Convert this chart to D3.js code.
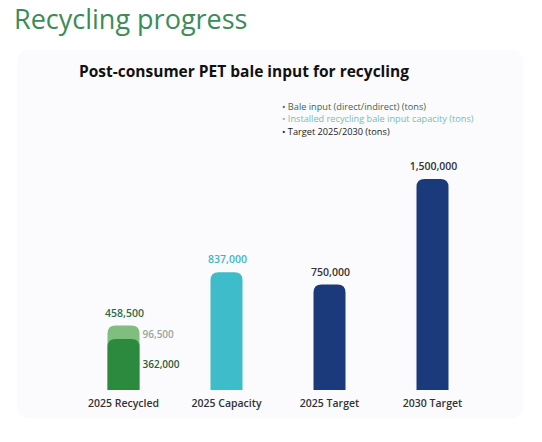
<!DOCTYPE html>
<html lang="en"><head><meta charset="utf-8">
<title>Recycling progress</title>
<script src="https://cdn.jsdelivr.net/npm/d3@7"></script>
<style>
  body { margin: 0; background: #fff; font-family: "Open Sans", sans-serif; }
</style>
</head>
<body>
<script>
// values
var categories = ["2025 Recycled", "2025 Capacity", "2025 Target", "2030 Target"];
var totals = [458500, 837000, 750000, 1500000];
var recycledDirect = 362000;
var recycledExtra = 96500;
var legendItems = ["Bale input (direct/indirect) (tons)",
                   "Installed recycling bale input capacity (tons)",
                   "Target 2025/2030 (tons)"];

var width = 542, height = 442;
var barColor = ["#80be80", "#3fbcca", "#1b3a7b", "#1b3a7b"];
var labelColor = ["#2d6b48", "#3fb6c4", "#333", "#333"];
var legendColor = ["#3a6650", "#74bfab", "#1a1a1a"];
var fmt = d3.format(",");

var svg = d3.select("body").append("svg")
    .attr("width", width)
    .attr("height", height);

// card
svg.append("rect")
    .attr("x", 17).attr("y", 50)
    .attr("width", 506).attr("height", 368)
    .attr("rx", 10)
    .attr("fill", "#fbfbfd");

svg.append("text")
    .attr("x", 14).attr("y", 29)
    .attr("font-size", 27)
    .attr("fill", "#3b8c56")
    .text("Recycling progress");

svg.append("text")
    .attr("x", 79).attr("y", 77)
    .attr("font-size", 15.5)
    .attr("font-weight", "bold")
    .attr("fill", "#111")
    .text("Post-consumer PET bale input for recycling");

svg.selectAll(".legend")
    .data(legendItems)
    .enter().append("text")
    .attr("class", "legend")
    .attr("x", 282)
    .attr("y", function(d, i){ return 109.5 + i * 12.5; })
    .attr("font-size", 9.2)
    .attr("fill", function(d, i){ return legendColor[i]; })
    .text(function(d){ return "\u2022  " + d; });

var x = d3.scaleBand().domain(categories).range([72, 484]);
var y = d3.scaleLinear().domain([0, 1500000]).range([390, 179]);
var bw = 32, r = 8;

function topRounded(cx, v) {
  var x0 = cx - bw / 2, x1 = cx + bw / 2, y0 = y(v), yb = y(0);
  return "M" + x0 + "," + yb +
         "V" + (y0 + r) +
         "Q" + x0 + "," + y0 + " " + (x0 + r) + "," + y0 +
         "H" + (x1 - r) +
         "Q" + x1 + "," + y0 + " " + x1 + "," + (y0 + r) +
         "V" + yb + "Z";
}
function cx(d) { return x(d) + x.bandwidth() / 2; }

svg.selectAll(".bar")
    .data(categories)
    .enter().append("path")
    .attr("class", "bar")
    .attr("d", function(d, i){ return topRounded(cx(d), totals[i]); })
    .attr("fill", function(d, i){ return barColor[i]; });

// darker part of the recycled bar
svg.append("path")
    .attr("d", topRounded(cx(categories[0]), recycledDirect))
    .attr("fill", "#2b8a3d");

svg.selectAll(".value")
    .data(categories)
    .enter().append("text")
    .attr("class", "value")
    .attr("x", function(d){ return cx(d) + 1; })
    .attr("y", function(d, i){ return y(totals[i]) - 9; })
    .attr("text-anchor", "middle")
    .attr("font-size", 10.5)
    .attr("font-weight", 600)
    .attr("fill", function(d, i){ return labelColor[i]; })
    .text(function(d, i){ return fmt(totals[i]); });

svg.append("text")
    .attr("x", cx(categories[0]) + bw / 2 + 3)
    .attr("y", y(recycledDirect + recycledExtra / 2) + 6)
    .attr("font-size", 10)
    .attr("font-weight", 600)
    .attr("fill", "#9aa59e")
    .text(fmt(recycledExtra));

svg.append("text")
    .attr("x", cx(categories[0]) + bw / 2 + 3)
    .attr("y", y(recycledDirect / 2) + 3)
    .attr("font-size", 10)
    .attr("font-weight", 600)
    .attr("fill", "#2d5a40")
    .text(fmt(recycledDirect));

svg.selectAll(".cat")
    .data(categories)
    .enter().append("text")
    .attr("class", "cat")
    .attr("x", function(d){ return cx(d); })
    .attr("y", 407)
    .attr("text-anchor", "middle")
    .attr("font-size", 10.5)
    .attr("font-weight", 600)
    .attr("fill", "#333")
    .text(function(d){ return d; });
</script>
</body></html>
